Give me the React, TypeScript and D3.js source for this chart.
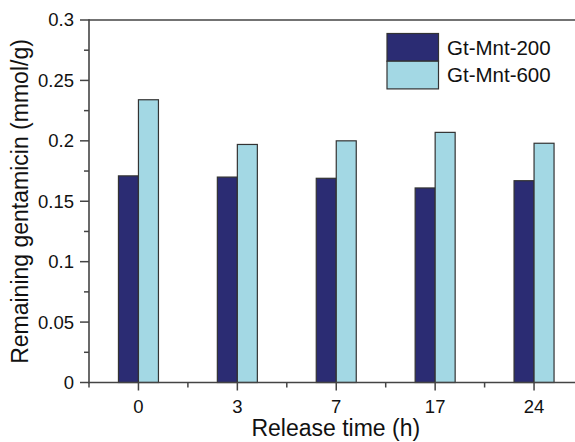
import React from "react";
import * as d3 from "d3";

const categories = ["0", "3", "7", "17", "24"];
const seriesNames = ["Gt-Mnt-200", "Gt-Mnt-600"];
const mnt200 = [0.171, 0.170, 0.169, 0.161, 0.167];
const mnt600 = [0.234, 0.197, 0.200, 0.207, 0.198];
const yTicks = [0, 0.05, 0.1, 0.15, 0.2, 0.25, 0.3];
const yMinorTicks = [0.025, 0.075, 0.125, 0.175, 0.225, 0.275];
const colors = ["#2B2C73", "#A3D8E4"];

const W = 575;
const H = 442;
const left = 89;
const top = 20;
const bottom = 382.5;
const right = 583.5;
const font = "Arial, 'Liberation Sans', sans-serif";
const axisColor = "#444";

export default function App() {
  const x = d3.scaleBand<string>().domain(categories).range([left, right]).padding(0);
  const y = d3.scaleLinear().domain([0, 0.3]).range([bottom, top]);
  const barW = 20;
  const series = [mnt200, mnt600];
  const minorX = categories.map((c) => (x(c) as number));

  return (
    <svg width={W} height={H} style={{ position: "absolute", left: 0, top: 0, background: "#fff" }} fontFamily={font}>
      {series.map((vals, si) =>
        vals.map((v, i) => {
          const cx = (x(categories[i]) as number) + x.bandwidth() / 2;
          const x0 = si === 0 ? cx - barW : cx;
          return (
            <rect key={`${si}-${i}`} x={x0} y={y(v)} width={barW} height={bottom - y(v)}
              fill={colors[si]} stroke="#333" strokeWidth={1.2} />
          );
        })
      )}
      <line x1={left} x2={right} y1={top} y2={top} stroke={axisColor} strokeWidth={1.6} />
      <line x1={right} x2={right} y1={top} y2={bottom} stroke={axisColor} strokeWidth={1.6} />
      <line x1={left} x2={left} y1={top - 0.8} y2={bottom + 0.8} stroke={axisColor} strokeWidth={1.6} />
      <line x1={left - 0.8} x2={right} y1={bottom} y2={bottom} stroke={axisColor} strokeWidth={1.6} />
      {yTicks.map((t) => (
        <g key={t}>
          <line x1={left - 9} x2={left} y1={y(t)} y2={y(t)} stroke={axisColor} strokeWidth={1.5} />
          <text x={left - 15} y={y(t)} dy="0.35em" textAnchor="end" fontSize={18.5} fill="#111">{String(t)}</text>
        </g>
      ))}
      {yMinorTicks.map((t) => (
        <line key={t} x1={left - 5} x2={left} y1={y(t)} y2={y(t)} stroke={axisColor} strokeWidth={1.5} />
      ))}
      {categories.map((c) => {
        const cx = (x(c) as number) + x.bandwidth() / 2;
        return (
          <g key={c}>
            <line x1={cx} x2={cx} y1={bottom} y2={bottom + 8} stroke={axisColor} strokeWidth={1.5} />
            <text x={cx} y={413} textAnchor="middle" fontSize={18.5} fill="#111">{c}</text>
          </g>
        );
      })}
      {minorX.map((mx, i) => (
        <line key={i} x1={mx} x2={mx} y1={bottom} y2={bottom + 5} stroke={axisColor} strokeWidth={1.5} />
      ))}
      <text x={(left + 583.5) / 2 - 0.5} y={436} textAnchor="middle" fontSize={23} fill="#111">Release time (h)</text>
      <text transform={`translate(27.5, ${(36 + 367) / 2}) rotate(-90)`} textAnchor="middle" fontSize={23} fill="#111">
        Remaining gentamicin (mmol/g)
      </text>
      {seriesNames.map((n, i) => (
        <g key={n}>
          <rect x={387} y={33.5 + i * 27.7} width={51.5} height={27.7} fill={colors[i]} stroke="#333" strokeWidth={1.2} />
          <text x={447} y={47.5 + i * 27.7} dy="0.35em" fontSize={20.5} fill="#111">{n}</text>
        </g>
      ))}
    </svg>
  );
}
